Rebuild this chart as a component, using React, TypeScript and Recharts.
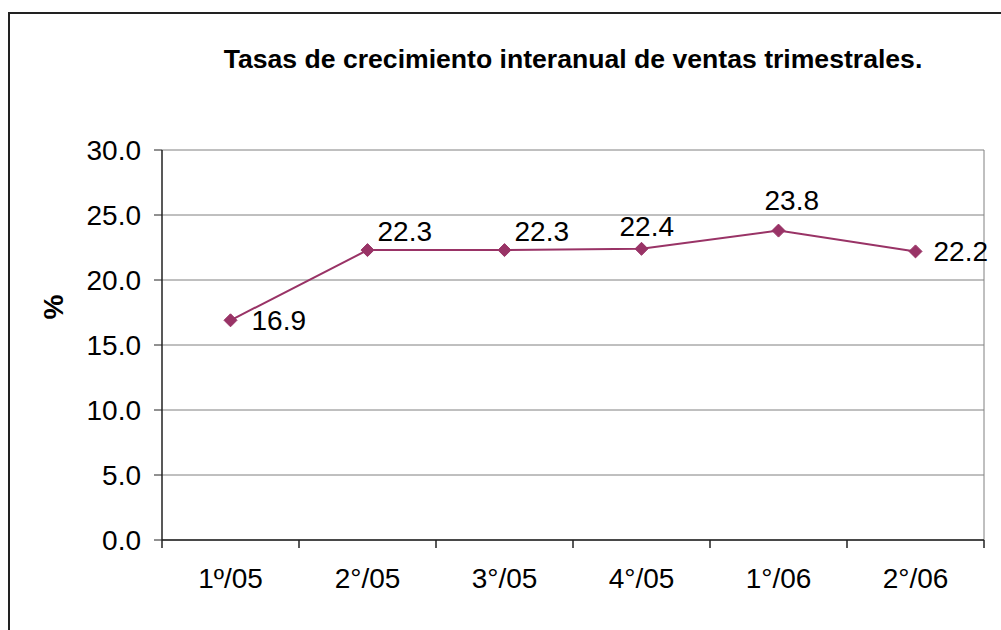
import React from "react"
import {
  ComposedChart,
  Line,
  XAxis,
  YAxis,
  CartesianGrid,
} from "recharts"

const quarters = ["1º/05", "2°/05", "3°/05", "4°/05", "1°/06", "2°/06"]
const growth = [16.9, 22.3, 22.3, 22.4, 23.8, 22.2]
const yTicks = [0, 5, 10, 15, 20, 25, 30]

const data = quarters.map((q, i) => ({ q, v: growth[i] }))

const FONT = "'Liberation Sans', Arial, sans-serif"
const PLUM = "#993366"
const AXIS = "#222"
const TICK_LEN = 8
const X_GAP = 20

// where each value label sits relative to its marker (Excel-style placement)
const labelShift: [number, number][] = [
  [21, 0],
  [10, -19],
  [10, -19],
  [-22, -22],
  [-14, -30],
  [18, 0],
]

const Diamond = ({ cx, cy }: any) => {
  if (cx == null || cy == null) return null
  const r = 6.5
  return (
    <polygon
      points={`${cx},${cy - r} ${cx + r},${cy} ${cx},${cy + r} ${cx - r},${cy}`}
      fill={PLUM}
      stroke={PLUM}
    />
  )
}

const ValueLabel = ({ x, y, value, index }: any) => {
  const [dx, dy] = labelShift[index] || [10, -15]
  return (
    <text
      x={x + dx}
      y={y + dy}
      dominantBaseline="central"
      textAnchor="start"
      fontSize={28}
      fontFamily={FONT}
      fill="#000"
    >
      {Number(value).toFixed(1)}
    </text>
  )
}

// category label plus Excel-style tick marks between categories
const QuarterTick = ({ x, y, payload, index, visibleTicksCount }: any) => {
  const half = payload?.offset ?? 0
  const top = y - TICK_LEN - X_GAP
  const bottom = y - X_GAP
  const last = index === visibleTicksCount - 1
  return (
    <g>
      <line x1={x - half} x2={x - half} y1={top} y2={bottom} stroke={AXIS} strokeWidth={1.5} />
      {last && <line x1={x + half} x2={x + half} y1={top} y2={bottom} stroke={AXIS} strokeWidth={1.5} />}
      <text x={x} y={y} dy="0.71em" textAnchor="middle" fontSize={28} fontFamily={FONT} fill="#000">
        {payload.value}
      </text>
    </g>
  )
}

export default function App() {
  return (
    <div style={{ position: "absolute", left: 0, top: 0, width: 1001, height: 630, background: "#fff", overflow: "hidden" }}>
      <div
        style={{
          position: "absolute",
          left: 8,
          top: 12,
          width: 1100,
          height: 700,
          borderLeft: "2px solid #222",
          borderTop: "2px solid #222",
        }}
      />
      <div style={{ position: "absolute", left: 0, top: 0 }}>
        <ComposedChart width={1001} height={630} data={data} margin={{ top: 150, right: 17, bottom: 40, left: 62 }}>
          <CartesianGrid
            stroke="#808080"
            strokeWidth={1}
            verticalCoordinatesGenerator={({ offset }: any) => [offset.left + offset.width]}
          />
          <XAxis
            dataKey="q"
            scale="band"
            height={50}
            tickSize={TICK_LEN}
            tickMargin={X_GAP}
            tickLine={false}
            axisLine={{ stroke: AXIS, strokeWidth: 1.5 }}
            tick={<QuarterTick />}
            interval={0}
          />
          <YAxis
            width={100}
            domain={[0, 30]}
            ticks={yTicks}
            tickFormatter={(v: number) => v.toFixed(1)}
            tickSize={8}
            tickMargin={13}
            axisLine={{ stroke: AXIS, strokeWidth: 1.5 }}
            tickLine={{ stroke: AXIS, strokeWidth: 1 }}
            tick={{ fontSize: 28, fontFamily: FONT, fill: "#000" }}
          />
          <Line
            dataKey="v"
            stroke={PLUM}
            strokeWidth={2}
            dot={<Diamond />}
            activeDot={false}
            label={<ValueLabel />}
            isAnimationActive={false}
          />
        </ComposedChart>
      </div>
      <svg width={1001} height={630} style={{ position: "absolute", left: 0, top: 0, pointerEvents: "none" }}>
        <text x={573} y={68} textAnchor="middle" fontSize={26.6} fontWeight="bold" fontFamily={FONT} fill="#000">
          Tasas de crecimiento interanual de ventas trimestrales.
        </text>
        <text
          x={53}
          y={307}
          transform="rotate(-90 53 307)"
          textAnchor="middle"
          dominantBaseline="central"
          fontSize={28}
          fontWeight="bold"
          fontFamily={FONT}
          fill="#000"
        >
          %
        </text>
      </svg>
    </div>
  )
}
